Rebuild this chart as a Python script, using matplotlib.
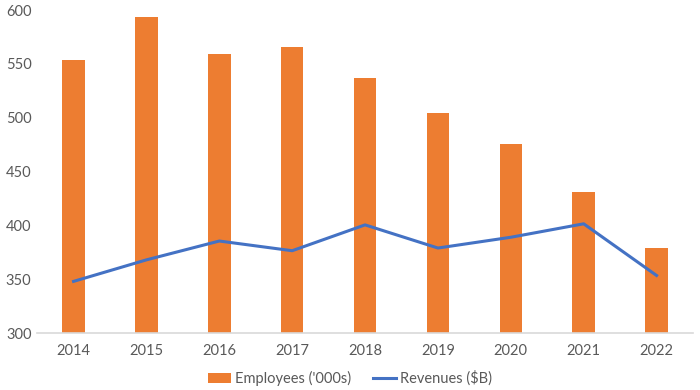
import numpy as np
import matplotlib.pyplot as plt

years = ['2014', '2015', '2016', '2017', '2018', '2019', '2020', '2021', '2022']
employees = [554, 594, 559, 566, 537, 504, 476, 431, 379]
revenues = [348, 368, 385.5, 376.5, 400.5, 379, 389, 401.5, 353.5]

plt.rcParams['font.family'] = ['Lato', 'DejaVu Sans']
txt = '#595959'

fig = plt.figure(figsize=(7, 3.9), dpi=100)
ax = fig.add_axes([0.053, 0.146, 0.937, 0.828])

x = np.arange(len(years))
bars = ax.bar(x, employees, width=0.31, color='#ED7D31', label="Employees ('000s)", zorder=2)
line, = ax.plot(x, revenues, color='#4472C4', lw=2.2, label='Revenues ($B)', zorder=3)

ax.set_ylim(300, 600)
ax.set_xlim(-0.5, len(years) - 0.5)
ax.set_yticks(np.arange(300, 601, 50))
ax.set_xticks(x)
ax.set_xticklabels(years)
ax.tick_params(axis='both', length=0, labelsize=10.5, colors=txt)
ax.tick_params(axis='x', pad=8)
ax.tick_params(axis='y', pad=4)
for s in ['top', 'right', 'left']:
    ax.spines[s].set_visible(False)
ax.spines['bottom'].set_color('#D9D9D9')
ax.spines['bottom'].set_linewidth(1.2)

leg = fig.legend(handles=[bars, line], loc='center', bbox_to_anchor=(0.5, 0.03), ncol=2,
                 frameon=False, fontsize=10.5, handlelength=1.6, handleheight=0.7,
                 columnspacing=1.5, handletextpad=0.25)
for t in leg.get_texts():
    t.set_color(txt)

plt.savefig('out.png', dpi=100)
